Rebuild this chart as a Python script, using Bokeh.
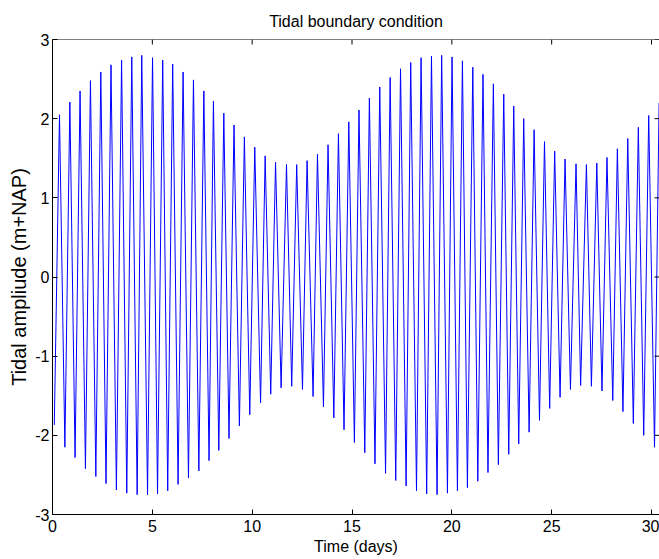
import math
from bokeh.plotting import figure
from bokeh.models import Range1d, FixedTicker, Span
from bokeh.embed import file_html
from bokeh.resources import INLINE

# Tidal water level (m+NAP): high- and low-water extremes
peak_days = [0.35, 0.87, 1.38, 1.90, 2.42, 2.93, 3.46, 3.97, 4.47, 5.01,
             5.52, 6.02, 6.54, 7.06, 7.58, 8.06, 8.58, 9.09, 9.61, 10.13,
             10.65, 11.17, 11.72, 12.23, 12.75, 13.27, 13.80, 14.32, 14.84, 15.35,
             15.87, 16.39, 16.91, 17.43, 17.94, 18.46, 18.98, 19.49, 20.01, 20.53,
             21.05, 21.56, 22.08, 22.60, 23.10, 23.60, 24.12, 24.64, 25.15, 25.67,
             26.22, 26.74, 27.26, 27.77, 28.29, 28.81, 29.34, 29.86, 30.38]
peak_values = [2.05, 2.21, 2.35, 2.48, 2.59, 2.68, 2.74, 2.78, 2.80, 2.77,
               2.74, 2.69, 2.59, 2.49, 2.35, 2.22, 2.07, 1.92, 1.77, 1.64,
               1.53, 1.45, 1.42, 1.42, 1.47, 1.55, 1.67, 1.81, 1.96, 2.11,
               2.26, 2.40, 2.52, 2.63, 2.71, 2.77, 2.79, 2.80, 2.78, 2.73,
               2.65, 2.56, 2.44, 2.31, 2.16, 2.00, 1.86, 1.71, 1.59, 1.49,
               1.43, 1.42, 1.44, 1.51, 1.62, 1.75, 1.89, 2.04, 2.20]
trough_days = [0.09, 0.62, 1.13, 1.65, 2.17, 2.68, 3.20, 3.72, 4.24, 4.76, 5.26,
               5.77, 6.29, 6.81, 7.33, 7.84, 8.33, 8.84, 9.36, 9.88, 10.42,
               10.93, 11.45, 11.98, 12.52, 13.05, 13.57, 14.09, 14.60, 15.12, 15.64,
               16.15, 16.68, 17.19, 17.71, 18.23, 18.74, 19.26, 19.78, 20.28, 20.78,
               21.30, 21.81, 22.33, 22.85, 23.35, 23.87, 24.39, 24.90, 25.42, 25.94,
               26.45, 26.99, 27.52, 28.06, 28.57, 29.09, 29.61, 30.15]
trough_values = [-1.87, -2.15, -2.28, -2.42, -2.52, -2.61, -2.69, -2.73, -2.75, -2.75, -2.74,
                 -2.70, -2.62, -2.54, -2.45, -2.32, -2.19, -2.04, -1.88, -1.74, -1.59,
                 -1.48, -1.40, -1.38, -1.42, -1.51, -1.64, -1.78, -1.93, -2.09, -2.22,
                 -2.36, -2.48, -2.57, -2.64, -2.70, -2.74, -2.75, -2.73, -2.70, -2.66,
                 -2.58, -2.47, -2.37, -2.24, -2.11, -1.96, -1.81, -1.66, -1.52, -1.42,
                 -1.37, -1.38, -1.44, -1.56, -1.70, -1.85, -2.00, -2.15]

x_ticks = [0, 5, 10, 15, 20, 25, 30]
y_ticks = [-3, -2, -1, 0, 1, 2, 3]
x_end = 30.40

title_text = "Tidal boundary condition"
x_label = "Time (days)"
y_label = "Tidal ampliude (m+NAP)"

FONT = "Liberation Sans"
FS = "16px"
FS_YLABEL = "20px"

pts = sorted(zip(peak_days + trough_days, peak_values + trough_values))
days = [p[0] for p in pts]
level = [p[1] for p in pts]

p = figure(width=659, height=557, output_backend="svg", toolbar_location=None,
           x_range=Range1d(0, x_end), y_range=Range1d(-3, 3),
           min_border_left=52, min_border_right=0, min_border_top=39, min_border_bottom=38,
           title=title_text)
p.title.align = "center"
p.title.text_font = FONT
p.title.text_font_size = FS
p.title.text_font_style = "normal"
p.title.text_color = "black"
p.title.standoff = 20

p.line(days, level, line_color="#0000ff", line_width=1)

p.xgrid.visible = False
p.ygrid.visible = False
p.outline_line_color = None
p.background_fill_color = "white"
p.border_fill_color = "white"

def style(ax, ticks):
    ax.ticker = FixedTicker(ticks=ticks)
    ax.major_label_overrides = {t: str(t) for t in ticks}
    ax.axis_line_color = "black"
    ax.major_tick_line_color = "black"
    ax.major_tick_in = 5
    ax.major_tick_out = 0
    ax.minor_tick_line_color = None
    ax.major_label_text_font = FONT
    ax.major_label_text_font_size = FS
    ax.major_label_text_color = "black"
    ax.axis_label_text_font = FONT
    ax.axis_label_text_font_size = FS
    ax.axis_label_text_font_style = "normal"
    ax.axis_label_text_color = "black"

style(p.xaxis[0], x_ticks)
p.xaxis[0].axis_label = x_label
p.xaxis[0].major_label_standoff = 5
p.xaxis[0].axis_label_standoff = 3

style(p.yaxis[0], y_ticks)
p.yaxis[0].axis_label = y_label
p.yaxis[0].axis_label_text_font_size = FS_YLABEL
p.yaxis[0].major_label_standoff = 3
p.yaxis[0].axis_label_standoff = 2

# top edge of the box and inward ticks on the top and right edges
p.add_layout(Span(location=3, dimension="width", line_color="black", line_width=1))
p.ray(x=x_ticks, y=[3] * len(x_ticks), length=5, length_units="screen",
      angle=-math.pi / 2, line_color="black", line_width=1)
p.ray(x=[x_end] * len(y_ticks), y=y_ticks, length=5, length_units="screen",
      angle=math.pi, line_color="black", line_width=1)

open("out.html", "w").write(file_html(p, INLINE))
